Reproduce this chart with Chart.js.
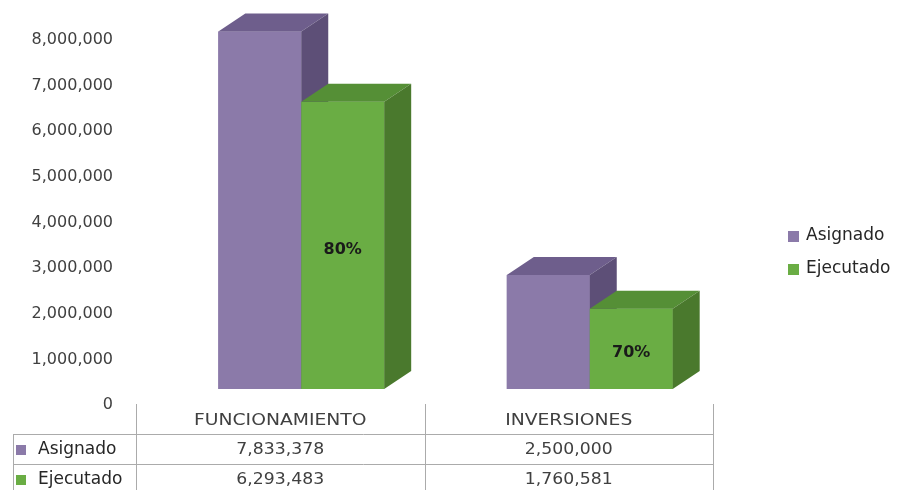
<!DOCTYPE html>
<html>
<head>
<meta charset="utf-8">
<script src="https://cdn.jsdelivr.net/npm/chart.js@4.4.1/dist/chart.umd.min.js"></script>
<style>
  html, body { margin: 0; padding: 0; background: #ffffff; }
  #wrap { position: relative; width: 899px; height: 490px; }
</style>
</head>
<body>
<div id="wrap"><canvas id="chart" width="899" height="490"></canvas></div>
<script>
const categories = ["FUNCIONAMIENTO", "INVERSIONES"];
const asignado = [7833378, 2500000];
const ejecutado = [6293483, 1760581];
const yTicks = [0, 1000000, 2000000, 3000000, 4000000, 5000000, 6000000, 7000000, 8000000];

const colors = {
  asignado: { front: "#8b7aa9", top: "#6e5e8c", side: "#5d4f77" },
  ejecutado: { front: "#6aad44", top: "#558f36", side: "#4a792d" },
};

// fake 3D look
const shift = { x: 21, y: -16 };
const depth = { x: 27, y: -18 };
const textColor = "#404040";
const font = "DejaVu Sans";

function fmt(v) {
  return Number(v).toLocaleString("en-US");
}

function drawStretched(ctx, text, x, y, align, sx) {
  ctx.save();
  ctx.translate(x, y);
  ctx.scale(sx, 1);
  ctx.textAlign = align;
  ctx.fillText(text, 0, 0);
  ctx.restore();
}

// bars are shifted and redrawn in dataset order with a top and a side face
const box3d = {
  id: "box3d",
  beforeDatasetsDraw(chart) {
    chart.ctx.save();
    chart.ctx.translate(shift.x, shift.y);
  },
  afterDatasetsDraw(chart) {
    const ctx = chart.ctx;
    chart.data.datasets.forEach((ds, di) => {
      const meta = chart.getDatasetMeta(di);
      const pal = di === 0 ? colors.asignado : colors.ejecutado;
      meta.data.forEach((bar) => {
        const p = bar.getProps(["x", "y", "base", "width"], true);
        const l = p.x - p.width / 2;
        const r = p.x + p.width / 2;
        ctx.fillStyle = pal.front;
        ctx.fillRect(l, p.y, p.width, p.base - p.y);
        ctx.fillStyle = pal.top;
        ctx.beginPath();
        ctx.moveTo(l, p.y);
        ctx.lineTo(l + depth.x, p.y + depth.y);
        ctx.lineTo(r + depth.x, p.y + depth.y);
        ctx.lineTo(r, p.y);
        ctx.closePath();
        ctx.fill();
        ctx.fillStyle = pal.side;
        ctx.beginPath();
        ctx.moveTo(r, p.y);
        ctx.lineTo(r + depth.x, p.y + depth.y);
        ctx.lineTo(r + depth.x, p.base + depth.y);
        ctx.lineTo(r, p.base);
        ctx.closePath();
        ctx.fill();
      });
    });
    const meta = chart.getDatasetMeta(1);
    ctx.fillStyle = "#1a1a1a";
    ctx.font = "bold 16px '" + font + "'";
    ctx.textAlign = "center";
    ctx.textBaseline = "middle";
    meta.data.forEach((bar, i) => {
      const p = bar.getProps(["x", "y", "base"], true);
      const pct = Math.round((ejecutado[i] / asignado[i]) * 100) + "%";
      ctx.fillText(pct, p.x, (p.y + p.base) / 2 + 4);
    });
    ctx.restore();
  },
};

const dataTable = {
  id: "dataTable",
  afterDraw(chart) {
    const ctx = chart.ctx;
    const xs = chart.scales.x;
    const area = chart.chartArea;
    const colW = xs.width / categories.length;
    const top = area.bottom - 1;
    const rowH = 30;
    const left = 13;
    const rows = [
      { label: "Asignado", values: asignado, color: colors.asignado.front },
      { label: "Ejecutado", values: ejecutado, color: colors.ejecutado.front },
    ];

    ctx.save();
    ctx.strokeStyle = "#ababab";
    ctx.lineWidth = 1;
    ctx.beginPath();
    for (let i = 0; i <= categories.length; i++) {
      const x = Math.round(xs.left + i * colW) + 0.5;
      ctx.moveTo(x, top);
      ctx.lineTo(x, top + rowH * 3);
    }
    ctx.moveTo(left + 0.5, top + rowH);
    ctx.lineTo(left + 0.5, top + rowH * 3);
    for (let r = 1; r <= 3; r++) {
      const y = Math.round(top + rowH * r) + 0.5;
      ctx.moveTo(left, y);
      ctx.lineTo(Math.round(xs.right) + 1, y);
    }
    ctx.stroke();

    ctx.textBaseline = "middle";
    ctx.fillStyle = textColor;
    ctx.font = "15px '" + font + "'";
    categories.forEach((c, i) => {
      const cx = xs.getPixelForValue(i);
      drawStretched(ctx, c, cx, top + rowH / 2 + 2, "center", 1.25);
    });

    rows.forEach((row, r) => {
      const cy = top + rowH * (r + 1) + rowH / 2 + 1;
      ctx.fillStyle = row.color;
      ctx.fillRect(left + 3, cy - 5, 10, 10);
      ctx.fillStyle = "#262626";
      ctx.font = "17px '" + font + "'";
      ctx.textAlign = "left";
      ctx.fillText(row.label, left + 25, cy);
      ctx.fillStyle = textColor;
      ctx.font = "15px '" + font + "'";
      row.values.forEach((v, i) => {
        const cx = xs.getPixelForValue(i);
        drawStretched(ctx, fmt(v), cx, cy, "center", 1.15);
      });
    });

    // legend on the right
    const legendX = 788;
    const legendY = [236, 269];
    chart.data.datasets.forEach((ds, i) => {
      ctx.fillStyle = ds.backgroundColor;
      ctx.fillRect(legendX, legendY[i] - 5, 11, 11);
      ctx.fillStyle = "#262626";
      ctx.font = "17px '" + font + "'";
      ctx.textAlign = "left";
      ctx.fillText(ds.label, legendX + 18, legendY[i]);
    });
    ctx.restore();
  },
};

new Chart(document.getElementById("chart"), {
  type: "bar",
  data: {
    labels: categories,
    datasets: [
      {
        label: "Asignado",
        data: asignado,
        backgroundColor: colors.asignado.front,
        clip: false,
      },
      {
        label: "Ejecutado",
        data: ejecutado,
        backgroundColor: colors.ejecutado.front,
        clip: false,
      },
    ],
  },
  options: {
    responsive: false,
    animation: false,
    layout: {
      padding: { top: 40, right: 186, bottom: 85, left: 0 },
    },
    datasets: {
      bar: { barPercentage: 1, categoryPercentage: 0.575, borderWidth: 0 },
    },
    plugins: {
      legend: { display: false },
      tooltip: { enabled: false },
    },
    scales: {
      x: {
        display: false,
      },
      y: {
        min: 0,
        max: yTicks[yTicks.length - 1],
        afterFit(scale) {
          scale.width = 136;
        },
        afterBuildTicks(scale) {
          scale.ticks = yTicks.map((v) => ({ value: v }));
        },
        grid: { display: false, drawTicks: false },
        border: { display: false },
        ticks: {
          padding: 23,
          color: textColor,
          font: { family: font, size: 16 },
          callback: (v) => fmt(v),
        },
      },
    },
  },
  plugins: [box3d, dataTable],
});
</script>
</body>
</html>
